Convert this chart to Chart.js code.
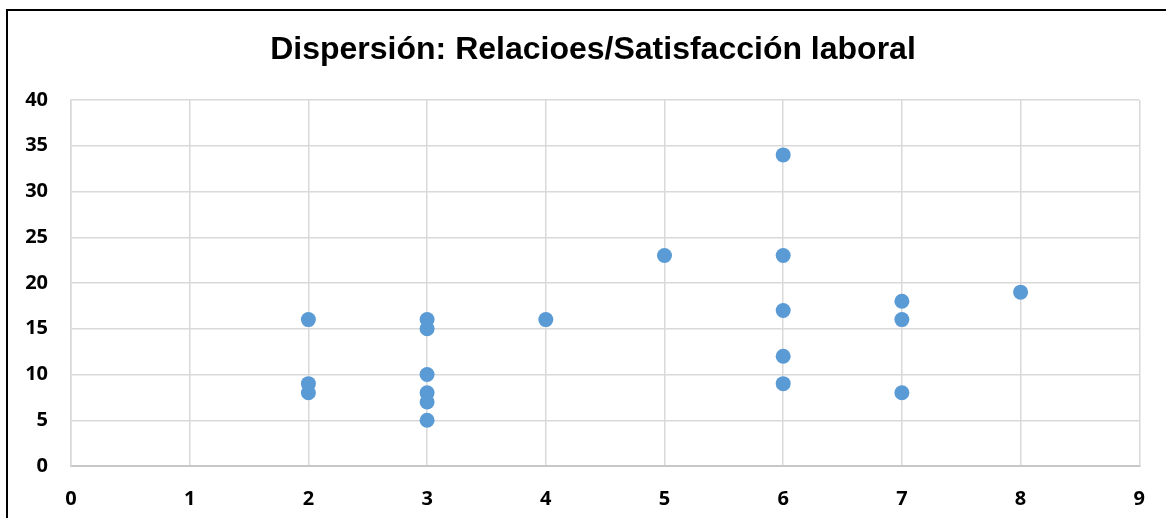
<!DOCTYPE html>
<html>
<head>
<meta charset="utf-8">
<script src="https://cdn.jsdelivr.net/npm/chart.js@4.4.0/dist/chart.umd.min.js"></script>
<style>
  html, body { margin: 0; padding: 0; background: #fff; }
  #wrap { position: relative; width: 1166px; height: 518px; overflow: hidden; }
  #frame {
    position: absolute; left: 6px; top: 9px; width: 1200px; height: 600px;
    border-left: 2px solid #000; border-top: 2px solid #000; pointer-events: none;
  }
  canvas { position: absolute; left: 0; top: 0; }
</style>
</head>
<body>
<div id="wrap">
  <canvas id="chart" width="1166" height="518"></canvas>
  <div id="frame"></div>
</div>
<script>
// Relaciones (x) vs Satisfaccion laboral (y)
const relaciones = [2, 2, 2, 3, 3, 3, 3, 3, 3, 4, 5, 6, 6, 6, 6, 6, 7, 7, 7, 8]
const satisfaccion = [16, 9, 8, 16, 15, 10, 8, 7, 5, 16, 23, 34, 23, 17, 12, 9, 18, 16, 8, 19]
const xTicks = [0, 1, 2, 3, 4, 5, 6, 7, 8, 9]
const yTicks = [0, 5, 10, 15, 20, 25, 30, 35, 40]
const chartTitle = 'Dispersión: Relacioes/Satisfacción laboral'

const points = relaciones.map((x, i) => ({ x, y: satisfaccion[i] }))

const tickFont = { family: '"Open Sans", "Liberation Sans", sans-serif', size: 20, weight: 'bold' }
const gridColor = '#d9d9d9'

// title centred on the whole chart frame, not just the plot area
const titlePlugin = {
  id: 'frameTitle',
  afterDraw(chart) {
    const ctx = chart.ctx
    ctx.save()
    ctx.font = 'bold 32px "Liberation Sans", Arial, sans-serif'
    ctx.fillStyle = '#000'
    ctx.textAlign = 'center'
    ctx.textBaseline = 'alphabetic'
    ctx.fillText(chartTitle, 593, 59)
    ctx.restore()
  }
}

new Chart(document.getElementById('chart'), {
  type: 'scatter',
  data: {
    datasets: [{
      data: points,
      backgroundColor: '#5b9bd5',
      borderWidth: 0,
      pointRadius: 7.5,
      pointHoverRadius: 7.5
    }]
  },
  options: {
    responsive: false,
    animation: false,
    layout: { padding: { left: 0, right: 25, top: 100, bottom: 0 } },
    plugins: {
      legend: { display: false },
      tooltip: { enabled: false },
      title: { display: false }
    },
    scales: {
      x: {
        type: 'linear',
        min: 0,
        max: 9,
        afterBuildTicks: (scale) => { scale.ticks = xTicks.map(v => ({ value: v })) },
        afterFit: (scale) => { scale.height = 52 },
        grid: { color: gridColor, lineWidth: 1.5, drawTicks: false },
        border: { color: '#c8c8c8', width: 2 },
        ticks: { font: tickFont, color: '#000', padding: 21 }
      },
      y: {
        type: 'linear',
        min: 0,
        max: 40,
        afterBuildTicks: (scale) => { scale.ticks = yTicks.map(v => ({ value: v })) },
        afterFit: (scale) => { scale.width = 71 },
        grid: { color: gridColor, lineWidth: 1.5, drawTicks: false },
        border: { color: gridColor, width: 1.5 },
        ticks: { font: tickFont, color: '#000', padding: 23 }
      }
    }
  },
  plugins: [titlePlugin]
})
</script>
</body>
</html>
